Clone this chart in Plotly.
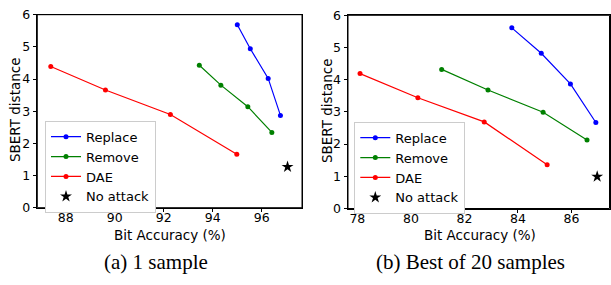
import plotly.graph_objects as go

# Panel (a): 1 sample
a_replace_x = [95.0, 95.53, 96.26, 96.76]
a_replace_y = [5.69, 4.94, 4.02, 2.87]
a_remove_x = [93.45, 94.33, 95.43, 96.41]
a_remove_y = [4.43, 3.81, 3.14, 2.34]
a_dae_x = [87.39, 89.62, 92.27, 94.98]
a_dae_y = [4.39, 3.66, 2.90, 1.66]
a_noattack_x = [97.05]
a_noattack_y = [1.27]

# Panel (b): Best of 20 samples
b_replace_x = [83.77, 84.87, 85.96, 86.91]
b_replace_y = [5.61, 4.82, 3.87, 2.67]
b_remove_x = [81.15, 82.88, 84.94, 86.58]
b_remove_y = [4.32, 3.68, 2.99, 2.13]
b_dae_x = [78.1, 80.26, 82.74, 85.09]
b_dae_y = [4.19, 3.44, 2.69, 1.36]
b_noattack_x = [86.96]
b_noattack_y = [0.99]

a_xticks = [88, 90, 92, 94, 96]
b_xticks = [78, 80, 82, 84, 86]
yticks = [0, 1, 2, 3, 4, 5, 6]

series_names = ["Replace", "Remove", "DAE"]
colors = ["#0000ff", "#008000", "#ff0000"]

W, H = 611, 285
fig = go.Figure()

panels = [
    ("x", "y", "legend", [(a_replace_x, a_replace_y), (a_remove_x, a_remove_y), (a_dae_x, a_dae_y)],
     (a_noattack_x, a_noattack_y)),
    ("x2", "y2", "legend2", [(b_replace_x, b_replace_y), (b_remove_x, b_remove_y), (b_dae_x, b_dae_y)],
     (b_noattack_x, b_noattack_y)),
]

for xa, ya, leg, series, na in panels:
    for name, col, (xs, ys) in zip(series_names, colors, series):
        fig.add_trace(go.Scatter(
            x=xs, y=ys, name=name, mode="lines+markers",
            line=dict(color=col, width=1.2),
            marker=dict(color=col, size=5, symbol="circle"),
            xaxis=xa, yaxis=ya, legend=leg, showlegend=True, cliponaxis=False,
        ))
    fig.add_trace(go.Scatter(
        x=na[0], y=na[1], name="No attack", mode="markers",
        marker=dict(color="black", size=9, symbol="star"),
        xaxis=xa, yaxis=ya, legend=leg, showlegend=True, cliponaxis=False,
    ))

tickfont = dict(family="DejaVu Sans", size=12.5, color="black")
axis_common = dict(
    showgrid=False, zeroline=False, showline=True, mirror=True,
    linecolor="black", linewidth=1, ticks="outside", ticklen=3.5,
    tickwidth=0.8, tickcolor="black", tickfont=tickfont, automargin=False,
)

fig.update_layout(
    width=W, height=H, autosize=False,
    margin=dict(l=0, r=0, t=0, b=0, pad=0),
    paper_bgcolor="white", plot_bgcolor="white",
    xaxis=dict(domain=[37.3 / W, 302 / W], range=[86.84, 97.64],
               tickvals=a_xticks, anchor="y", ticklabelstandoff=-5, **axis_common),
    yaxis=dict(domain=[1 - 207.7 / H, 1 - 14.7 / H], range=[0, 6],
               tickvals=yticks, anchor="x", **axis_common),
    xaxis2=dict(domain=[348 / W, 609.5 / W], range=[77.65, 87.42],
                tickvals=b_xticks, anchor="y2", ticklabelstandoff=-5, **axis_common),
    yaxis2=dict(domain=[1 - 208.5 / H, 1 - 15.3 / H], range=[0, 6],
                tickvals=yticks, anchor="x2", **axis_common),
    legend=dict(x=45 / W, y=1 - 120.7 / H, xanchor="left", yanchor="top",
                bordercolor="#cccccc", borderwidth=1, bgcolor="white",
                font=dict(family="DejaVu Sans", size=13, color="black"),
                traceorder="normal"),
    legend2=dict(x=354.3 / W, y=1 - 121.7 / H, xanchor="left", yanchor="top",
                 bordercolor="#cccccc", borderwidth=1, bgcolor="white",
                 font=dict(family="DejaVu Sans", size=13, color="black"),
                 traceorder="normal"),
    showlegend=True,
)

# frames around each panel
for xr, yr in [("x domain", "y domain"), ("x2 domain", "y2 domain")]:
    fig.add_shape(type="rect", xref=xr, yref=yr, x0=0, x1=1, y0=0, y1=1,
                  line=dict(color="black", width=1), fillcolor="rgba(0,0,0,0)",
                  layer="above")

label_font = dict(family="DejaVu Sans", size=13.5, color="black")
annotations = [
    dict(text="Bit Accuracy (%)", x=170 / W, y=1 - 235 / H, xref="paper", yref="paper",
         showarrow=False, font=label_font, xanchor="center", yanchor="middle"),
    dict(text="Bit Accuracy (%)", x=480 / W, y=1 - 235 / H, xref="paper", yref="paper",
         showarrow=False, font=label_font, xanchor="center", yanchor="middle"),
    dict(text="SBERT distance", x=15 / W, y=1 - 110 / H, xref="paper", yref="paper",
         showarrow=False, font=label_font, textangle=-90, xanchor="center", yanchor="middle"),
    dict(text="SBERT distance", x=327 / W, y=1 - 111 / H, xref="paper", yref="paper",
         showarrow=False, font=label_font, textangle=-90, xanchor="center", yanchor="middle"),
    dict(text="(a) 1 sample", x=156 / W, y=1 - 262 / H, xref="paper", yref="paper",
         showarrow=False, font=dict(family="Liberation Serif", size=21, color="black"),
         xanchor="center", yanchor="middle"),
    dict(text="(b) Best of 20 samples", x=470 / W, y=1 - 262 / H, xref="paper", yref="paper",
         showarrow=False, font=dict(family="Liberation Serif", size=21, color="black"),
         xanchor="center", yanchor="middle"),
]
fig.update_layout(annotations=annotations)

fig.write_html(
    "out.html",
    config={"displayModeBar": False},
    post_script="document.body.style.margin='0';document.body.style.overflow='hidden';",
)
